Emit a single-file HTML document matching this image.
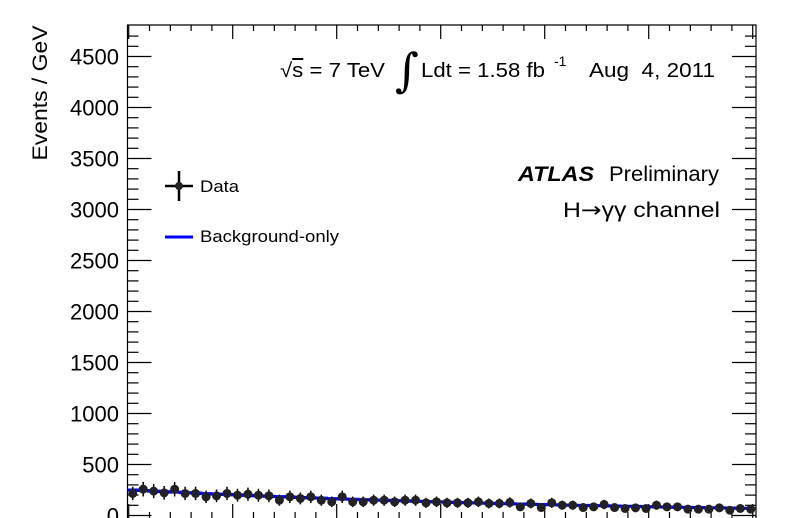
<!DOCTYPE html>
<html><head><meta charset="utf-8"><style>
html,body{margin:0;padding:0;background:#fff;overflow:hidden;}
svg{display:block;font-family:"Liberation Sans",sans-serif;}
</style></head><body>
<svg id="chart" width="795" height="518" viewBox="0 0 795 518">
<rect x="0" y="0" width="795" height="518" fill="#fff"/>
<g id="axes"></g>
<g id="marks"></g>
<text x="47" y="93" font-size="21" text-anchor="middle" transform="rotate(-90 47 93)" textLength="135" lengthAdjust="spacingAndGlyphs">Events / GeV</text>
<g font-size="20">
<text x="280" y="77" textLength="105" lengthAdjust="spacingAndGlyphs">√<tspan text-decoration="overline">s</tspan> = 7 TeV</text>
<text x="395" y="86" font-size="46" font-family="DejaVu Serif, serif">∫</text>
<text x="421" y="77" textLength="124" lengthAdjust="spacingAndGlyphs">Ldt = 1.58 fb</text>
<text x="554" y="66" font-size="14">-1</text>
<text x="589" y="77" textLength="126" lengthAdjust="spacingAndGlyphs" xml:space="preserve">Aug  4, 2011</text>
</g>
<text x="518" y="181" font-size="21" font-weight="bold" font-style="italic" textLength="76" lengthAdjust="spacingAndGlyphs">ATLAS</text>
<text x="609" y="181" font-size="21" textLength="110" lengthAdjust="spacingAndGlyphs">Preliminary</text>
<text x="563" y="217" font-size="21" textLength="157" lengthAdjust="spacingAndGlyphs">H<tspan font-family="DejaVu Sans, sans-serif">→</tspan>γγ channel</text>
<g>
<g>
<line x1="165" y1="186" x2="193" y2="186" stroke="#000" stroke-width="2.5"/>
<line x1="179" y1="171" x2="179" y2="201" stroke="#000" stroke-width="2.5"/>
<circle cx="179" cy="186" r="4" fill="#222"/>
<text x="200" y="192" font-size="17" textLength="39" lengthAdjust="spacingAndGlyphs">Data</text>
</g>
<g>
<line x1="165" y1="237" x2="193" y2="237" stroke="#0000ff" stroke-width="3"/>
<text x="200" y="242" font-size="17" textLength="139" lengthAdjust="spacingAndGlyphs">Background-only</text>
</g>
</g>
</svg>
<script>
const dataValues = [216,258,239,222,258,216,216,183,193,216,199,209,199,193,150,183,167,183,150,134,183,134,134,150,150,134,150,150,124,134,124,124,124,134,118,118,127,85,118,78,124,101,101,78,85,108,78,69,75,69,101,85,85,62,62,62,75,52,69,62];
const bkgValues = [250,245,239,234,229,224,220,215,210,206,202,197,193,189,185,181,177,173,170,166,162,159,156,152,149,146,143,140,137,134,131,128,125,123,120,117,115,113,110,108,105,103,101,99,97,95,93,91,89,87,85,83,81,80,78,76,75,73,71,70];
const yTickLabels = [0,500,1000,1500,2000,2500,3000,3500,4000,4500];

const NS="http://www.w3.org/2000/svg";
const X0=127.5,X1=756,Y0=515.5,YT=25;
const nb=dataValues.length;
function xs(i){return X0+(i)*(X1-X0)/nb;}
function ys(v){return Y0-v*0.102;}
function mk(tag,attrs,parent){const e=document.createElementNS(NS,tag);for(const k in attrs)e.setAttribute(k,attrs[k]);parent.appendChild(e);return e;}
const axes=document.getElementById('axes'),marks=document.getElementById('marks');
const frame=mk('path',{d:`M${X0},518 L${X0},${YT} L${X1},${YT} L${X1},518`,fill:'none',stroke:'#000','stroke-width':1.2},axes);


for(let v=0;v<=4700;v+=100){
  const y=ys(v);if(y<YT)break;
  const major=v%500===0;const L=major?24:11;
  mk('line',{x1:X0,y1:y,x2:X0+L,y2:y,stroke:'#000','stroke-width':1.2},axes);
  mk('line',{x1:X1,y1:y,x2:X1-L,y2:y,stroke:'#000','stroke-width':1.2},axes);
}
yTickLabels.forEach(v=>{
  const t=mk('text',{x:119,y:ys(v)+8,'font-size':22,'text-anchor':'end'},axes);
  t.textContent=v;
  
  
});
for(let k=0;k<=30;k++){
  const x=128.7+k*20.8;if(x>X1)break;
  const L=k%5===0?14:6;
  mk('line',{x1:x,y1:YT,x2:x,y2:YT+L,stroke:'#000','stroke-width':1.2},axes);
  mk('line',{x1:x,y1:518,x2:x,y2:518-L,stroke:'#000','stroke-width':1.2},axes);
}
let d='';
bkgValues.forEach((v,i)=>{d+=(i===0?'M':'L')+xs(i)+','+ys(v)+' L'+xs(i+1)+','+ys(v)+' ';});
const bl=mk('path',{d:d,fill:'none',stroke:'#0000ff','stroke-width':3},marks);


dataValues.forEach((v,i)=>{
  const cx=(xs(i)+xs(i+1))/2,cy=ys(v),e=Math.sqrt(v*20)*0.102;
  const g=mk('g',{},marks);
  
  
  mk('line',{x1:cx,y1:cy-e,x2:cx,y2:cy+e,stroke:'#000','stroke-width':1.5},g);
  mk('circle',{cx:cx,cy:cy,r:4.5,fill:'#222'},g);
});
</script>
</body></html>
